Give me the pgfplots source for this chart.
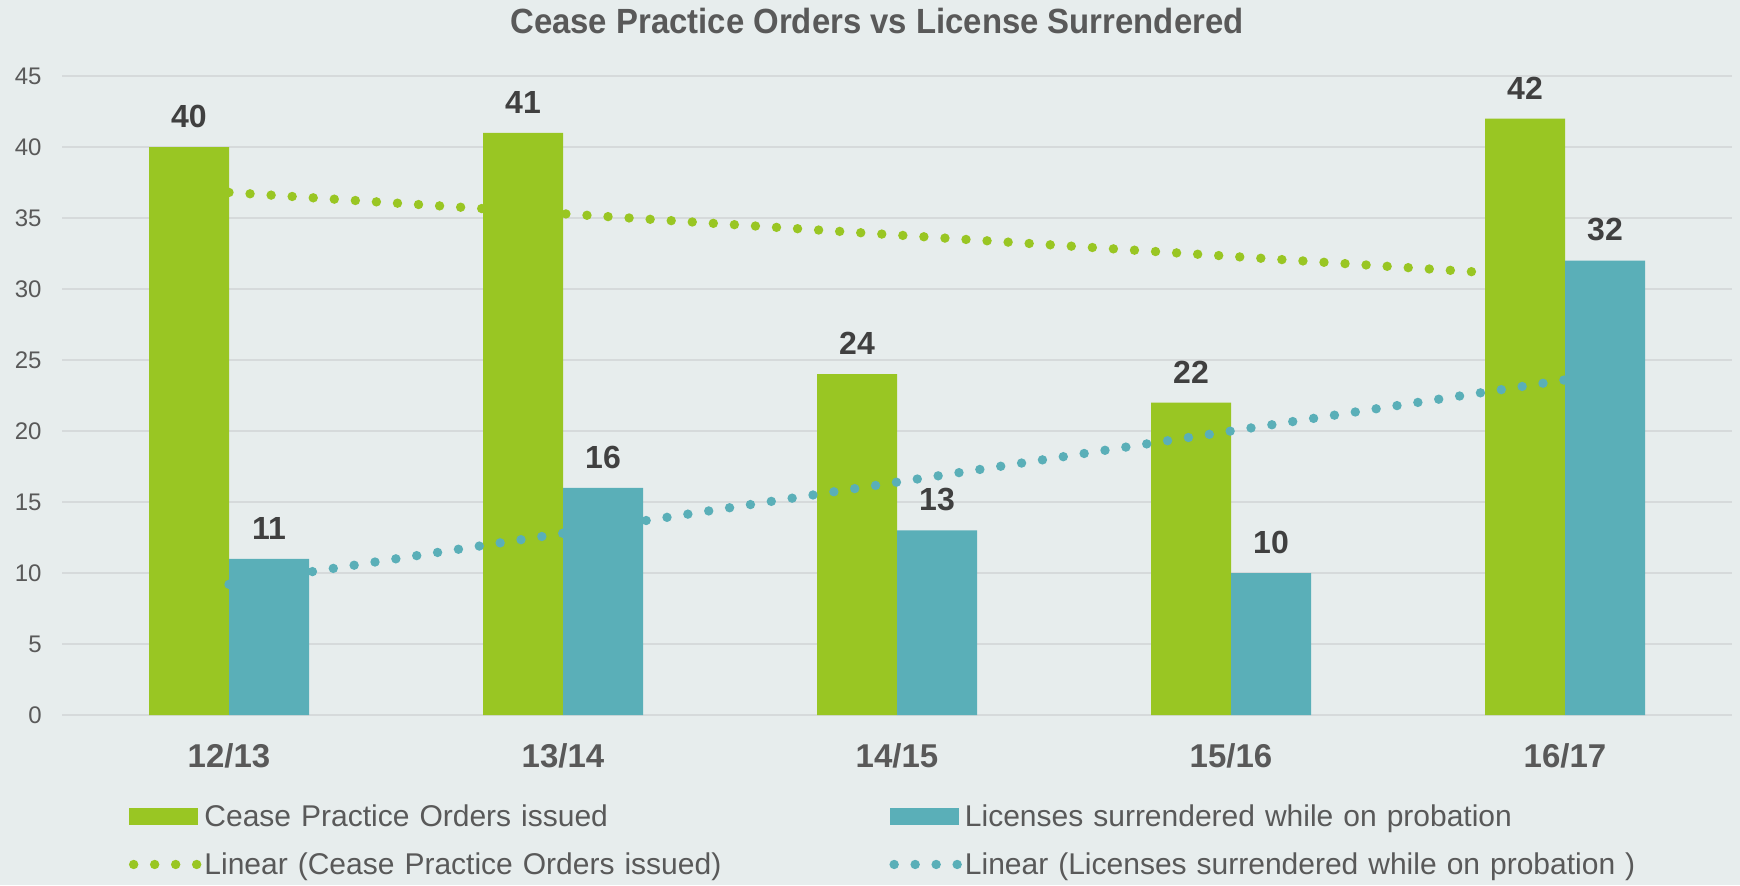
\documentclass[border=0pt]{standalone}
\usepackage{fontspec}
\setmainfont{Liberation Sans}
\newfontfamily\titlefont{Liberation Sans}[FakeStretch=0.94]
\usepackage{pgfplots}
\pgfplotsset{compat=1.18}
\pgfplotsset{/pgf/number format/assume math mode=true}
\definecolor{bg}{HTML}{E7EDED}
\definecolor{gridc}{HTML}{D6DADB}
\definecolor{cgreen}{HTML}{99C623}
\definecolor{cteal}{HTML}{5AAFB8}
\definecolor{txt}{HTML}{595959}
\definecolor{lbl}{HTML}{404040}
\pgfplotsset{
  commongeom/.style={
    at={(31pt,85pt)}, anchor=south west, scale only axis,
    width=835pt, height=319.5pt,
    xmin=-0.5, xmax=4.5, ymin=0, ymax=45,
  }
}
\begin{document}
\begin{tikzpicture}
\fill[bg] (0,0) rectangle (870pt,442.5pt);
\useasboundingbox (0,0) rectangle (870pt,442.5pt);
\begin{axis}[
  commongeom,
  ybar=0pt, bar width=40pt,
  xtick={0,1,2,3,4},
  xticklabels={12/13,13/14,14/15,15/16,16/17},
  ytick={0,5,...,45},
  ymajorgrids, grid style={draw=gridc, line width=0.75pt},
  axis line style={draw=none}, major tick length=0pt, tick style={draw=none},
  title={Cease Practice Orders vs License Surrendered},
  title style={at={(axis description cs:0.488,1.047)}, anchor=base, inner sep=0pt,
    font=\titlefont\bfseries\fontsize{17.5}{20}\selectfont, text=txt},
  xticklabel style={anchor=base, inner sep=0pt, yshift=-26pt,
    font=\bfseries\fontsize{16.5}{19}\selectfont, text=txt},
  yticklabel style={anchor=east, inner sep=0pt, xshift=-10pt,
    font=\fontsize{12}{14}\selectfont, text=txt},
  nodes near coords,
  every node near coord/.append style={font=\bfseries\fontsize{16}{18}\selectfont,
    text=lbl, anchor=south, inner sep=0pt, yshift=9.5pt},
]
\addplot[fill=cgreen, draw=none] coordinates {(0,40) (1,41) (2,24) (3,22) (4,42)};
\addplot[fill=cteal, draw=none] coordinates {(0,11) (1,16) (2,13) (3,10) (4,32)};
\end{axis}
\begin{axis}[
  commongeom, hide axis,
  legend columns=2,
  legend cell align=left,
  legend style={at={(axis description cs:0.0401,-0.1408)}, anchor=north west,
    draw=none, fill=none, inner sep=0pt, outer sep=0pt,
    row sep=10pt, column sep=0pt,
    /tikz/every odd column/.style={column sep=1.5pt},
    /tikz/every even column/.style={column sep=5.5pt},
    nodes={inner sep=0pt, text height=11pt, text depth=3pt, text width=337pt,
      align=left, font=\fontsize{15}{18}\selectfont, text=txt}},
]
\addlegendimage{legend image code/.code={
  \path[draw=none, fill=none] (0pt,-4.25pt) rectangle (34.5pt,4.25pt);
  \fill[cgreen, draw=none] (0pt,-3pt) rectangle (34.5pt,5.5pt);}}
\addlegendentry{Cease Practice Orders issued}
\addlegendimage{legend image code/.code={
  \path[draw=none, fill=none] (0pt,-4.25pt) rectangle (34.5pt,4.25pt);
  \fill[cteal, draw=none] (0pt,-3pt) rectangle (34.5pt,5.5pt);}}
\addlegendentry{Licenses surrendered while on probation}
\addplot[cgreen, line width=4.7pt, line cap=round, dash pattern=on 0pt off 10.55pt,
  legend image code/.code={
  \path[draw=none, fill=none] (0pt,-4.25pt) rectangle (34.5pt,4.25pt);
  \draw[cgreen, line width=4.7pt, line cap=round, dash pattern=on 0pt off 10.5pt] (2.25pt,1.25pt) -- (33.8pt,1.25pt);}]
  coordinates {(0,36.8) (4,30.8)};
\addlegendentry{Linear (Cease Practice Orders issued)}
\addplot[cteal, line width=4.7pt, line cap=round, dash pattern=on 0pt off 10.55pt,
  legend image code/.code={
  \path[draw=none, fill=none] (0pt,-4.25pt) rectangle (34.5pt,4.25pt);
  \draw[cteal, line width=4.7pt, line cap=round, dash pattern=on 0pt off 10.5pt] (2.25pt,1.25pt) -- (33.8pt,1.25pt);}]
  coordinates {(0,9.2) (4,23.6)};
\addlegendentry{Linear (Licenses surrendered while on probation )}
\end{axis}
\end{tikzpicture}
\end{document}
